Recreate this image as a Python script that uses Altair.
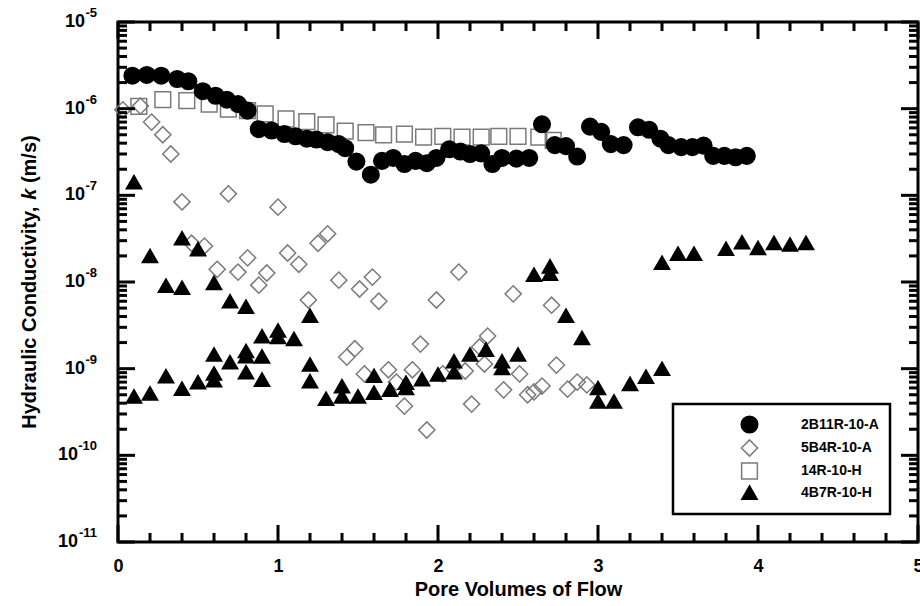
import altair as alt
import pandas as pd

# ---------------- data ----------------
SERIES = ["2B11R-10-A", "5B4R-10-A", "14R-10-H", "4B7R-10-H"]

X_2B11R = [0.09, 0.18, 0.27, 0.37, 0.44, 0.53, 0.61, 0.68, 0.75, 0.81,
           0.88, 0.96, 1.04, 1.11, 1.18, 1.24, 1.31, 1.38, 1.42, 1.49,
           1.58, 1.65, 1.72, 1.79, 1.86, 1.93, 1.99, 2.07, 2.14, 2.20,
           2.27, 2.34, 2.40, 2.49, 2.57, 2.65, 2.73, 2.80, 2.87, 2.95,
           3.02, 3.08, 3.16, 3.25, 3.32, 3.39, 3.44, 3.52, 3.59, 3.66,
           3.72, 3.79, 3.86, 3.93]
K_2B11R = [2.4e-6, 2.45e-6, 2.4e-6, 2.2e-6, 2.07e-6, 1.59e-6, 1.41e-6, 1.27e-6, 1.13e-6, 9.5e-7,
           5.8e-7, 5.6e-7, 5.1e-7, 4.8e-7, 4.5e-7, 4.4e-7, 4.1e-7, 3.9e-7, 3.5e-7, 2.45e-7,
           1.73e-7, 2.5e-7, 2.7e-7, 2.3e-7, 2.5e-7, 2.35e-7, 2.7e-7, 3.4e-7, 3.2e-7, 3.0e-7,
           3.05e-7, 2.3e-7, 2.7e-7, 2.65e-7, 2.7e-7, 6.6e-7, 3.8e-7, 3.7e-7, 2.8e-7, 6.2e-7,
           5.4e-7, 3.9e-7, 3.8e-7, 6.1e-7, 5.7e-7, 4.5e-7, 3.8e-7, 3.6e-7, 3.6e-7, 3.75e-7,
           2.85e-7, 2.85e-7, 2.75e-7, 2.85e-7]

X_5B4R = [0.03, 0.14, 0.21, 0.28, 0.33, 0.40, 0.46, 0.54, 0.62, 0.69,
          0.75, 0.81, 0.88, 0.93, 1.00, 1.06, 1.13, 1.19, 1.25, 1.31,
          1.38, 1.43, 1.48, 1.51, 1.54, 1.59, 1.63, 1.69, 1.74, 1.79,
          1.84, 1.89, 1.93, 1.99, 2.03, 2.13, 2.17, 2.21, 2.26, 2.29,
          2.31, 2.41, 2.47, 2.51, 2.56, 2.60, 2.65, 2.71, 2.74, 2.81,
          2.87, 2.93]
K_5B4R = [9.7e-7, 1.07e-6, 7.0e-7, 5.0e-7, 3.0e-7, 8.4e-8, 2.8e-8, 2.6e-8, 1.4e-8, 1.04e-7,
          1.3e-8, 1.9e-8, 9.2e-9, 1.27e-8, 7.3e-8, 2.16e-8, 1.6e-8, 6.2e-9, 2.8e-8, 3.6e-8,
          1.05e-8, 1.36e-9, 1.7e-9, 8.3e-9, 8.7e-10, 1.14e-8, 6.0e-9, 9.7e-10, 7.0e-10, 3.7e-10,
          9.7e-10, 1.92e-9, 1.96e-10, 6.2e-9, 8.7e-10, 1.3e-8, 9.4e-10, 3.9e-10, 1.78e-9, 1.13e-9,
          2.38e-9, 5.7e-10, 7.3e-9, 8.7e-10, 5.0e-10, 5.4e-10, 6.3e-10, 5.4e-9, 1.1e-9, 5.8e-10,
          7.0e-10, 6.5e-10]

X_14R = [0.13, 0.28, 0.43, 0.57, 0.69, 0.81, 0.92, 1.05, 1.18, 1.30, 1.42,
         1.55, 1.66, 1.79, 1.91, 2.03, 2.15, 2.27, 2.38, 2.50, 2.63, 2.72]
K_14R = [1.06e-6, 1.27e-6, 1.24e-6, 1.13e-6, 9.9e-7, 9.5e-7, 8.7e-7, 7.6e-7, 7.1e-7, 6.5e-7, 5.5e-7,
         5.3e-7, 5.0e-7, 5.1e-7, 4.7e-7, 4.8e-7, 4.7e-7, 4.7e-7, 4.8e-7, 4.8e-7, 4.7e-7, 4.3e-7]

X_4B7R = [0.1, 0.1, 0.2, 0.2, 0.3, 0.3, 0.4, 0.4, 0.4, 0.5, 0.5, 0.6, 0.6, 0.6, 0.6,
          0.7, 0.7, 0.8, 0.8, 0.8, 0.8, 0.9, 0.9, 0.9, 1.0, 1.0, 1.1, 1.2, 1.2, 1.2,
          1.3, 1.4, 1.4, 1.5, 1.6, 1.6, 1.7, 1.8, 1.8, 1.9, 2.0, 2.1, 2.1, 2.2, 2.3,
          2.4, 2.4, 2.5, 2.6, 2.7, 2.7, 2.8, 2.9, 3.0, 3.0, 3.1, 3.2, 3.3, 3.4, 3.4,
          3.5, 3.6, 3.8, 3.9, 4.0, 4.1, 4.2, 4.3]
K_4B7R = [1.42e-7, 4.8e-10, 2.0e-8, 5.2e-10, 9.1e-9, 8.2e-10, 3.2e-8, 8.6e-9, 5.9e-10, 2.4e-8,
          7.0e-10, 9.8e-9, 1.46e-9, 8.8e-10, 7.4e-10, 6.0e-9, 1.19e-9, 5.2e-9, 1.6e-9, 1.4e-9,
          9.1e-10, 2.37e-9, 1.39e-9, 7.5e-10, 2.76e-9, 2.33e-9, 2.21e-9, 4.1e-9, 1.12e-9, 7.2e-10,
          4.5e-10, 6.3e-10, 4.8e-10, 4.8e-10, 8.3e-10, 5.3e-10, 5.75e-10, 6.9e-10, 6.0e-10, 7.6e-10,
          8.6e-10, 1.22e-9, 9.1e-10, 1.46e-9, 1.66e-9, 1.22e-9, 1.02e-9, 1.46e-9, 1.22e-8, 1.52e-8,
          1.25e-8, 4.1e-9, 2.27e-9, 6.0e-10, 4.2e-10, 4.2e-10, 6.7e-10, 8.1e-10, 1.0e-9, 1.67e-8,
          2.13e-8, 2.13e-8, 2.42e-8, 2.88e-8, 2.48e-8, 2.83e-8, 2.71e-8, 2.83e-8]

# axis ticks / labels
X_TICKS = [0, 1, 2, 3, 4, 5]
X_MINOR = [i / 5 for i in range(1, 25) if i % 5]
Y_MAJOR = [1e-5, 1e-6, 1e-7, 1e-8, 1e-9, 1e-10, 1e-11]
Y_EXP = ["-5", "-6", "-7", "-8", "-9", "-10", "-11"]
Y_MINOR = [m * 10.0 ** e for e in range(-11, -5) for m in range(2, 10)]

# ---------------- styling ----------------
FONT = "Liberation Sans"
W, H = 800, 520
SHAPES = ["circle", "diamond", "square", "triangle-up"]
FILLS = ["black", "transparent", "transparent", "black"]
STROKES = ["black", "#7a7a7a", "#7a7a7a", "black"]
SIZES = [275, 235, 225, 300]

rows = []
for name, xs, ks in [("14R-10-H", X_14R, K_14R), ("5B4R-10-A", X_5B4R, K_5B4R),
                     ("2B11R-10-A", X_2B11R, K_2B11R), ("4B7R-10-H", X_4B7R, K_4B7R)]:
    for xv, kv in zip(xs, ks):
        rows.append({"series": name, "pv": xv, "k": kv})
df = pd.DataFrame(rows)

x_scale = alt.Scale(domain=[0, 5], nice=False, zero=False)
y_scale = alt.Scale(type="log", domain=[1e-11, 1e-5], nice=False)

x_axis = alt.Axis(values=X_TICKS, format="d", ticks=False, domain=False, grid=False,
                  labelFont=FONT, labelFontSize=18, labelFontWeight="bold", labelColor="black",
                  labelPadding=15, labelFlush=False, labelOverlap=False,
                  title="Pore Volumes of Flow", titleFont=FONT, titleFontSize=20,
                  titleFontWeight="bold", titleColor="black", titlePadding=4)
y_axis = alt.Axis(labels=False, ticks=False, domain=False, grid=False, title=None)

legend = alt.Legend(title=None, orient="none", legendX=555, legendY=382,
                    padding=11, symbolOffset=56, labelOffset=42, rowPadding=0,
                    strokeColor="black", labelFont=FONT, labelFontSize=14,
                    labelFontWeight="bold", labelColor="black", symbolStrokeWidth=1.5)

points = alt.Chart(df).mark_point(opacity=1, strokeWidth=1.5).encode(
    x=alt.X("pv:Q", scale=x_scale, axis=x_axis),
    y=alt.Y("k:Q", scale=y_scale, axis=y_axis),
    shape=alt.Shape("series:N", scale=alt.Scale(domain=SERIES, range=SHAPES), legend=legend),
    fill=alt.Fill("series:N", scale=alt.Scale(domain=SERIES, range=FILLS), legend=legend),
    stroke=alt.Stroke("series:N", scale=alt.Scale(domain=SERIES, range=STROKES), legend=legend),
    size=alt.Size("series:N", scale=alt.Scale(domain=SERIES, range=SIZES), legend=legend),
)

ymaj = pd.DataFrame({"v": Y_MAJOR, "e": Y_EXP})
ymin = pd.DataFrame({"v": Y_MINOR})
xmaj = pd.DataFrame({"v": X_TICKS})
xmin = pd.DataFrame({"v": X_MINOR})

MAJ, MIN, TW = 17, 9, 3


def yticks(data, length):
    left = alt.Chart(data).mark_rule(color="black", strokeWidth=TW).encode(
        y=alt.Y("v:Q", scale=y_scale, axis=y_axis), x=alt.value(0), x2=alt.value(length))
    right = alt.Chart(data).mark_rule(color="black", strokeWidth=TW).encode(
        y=alt.Y("v:Q", scale=y_scale, axis=y_axis), x=alt.value(W), x2=alt.value(W - length))
    return [left, right]


def xticks(data, length):
    bottom = alt.Chart(data).mark_rule(color="black", strokeWidth=TW).encode(
        x=alt.X("v:Q", scale=x_scale, axis=x_axis), y=alt.value(H), y2=alt.value(H - length))
    top = alt.Chart(data).mark_rule(color="black", strokeWidth=TW).encode(
        x=alt.X("v:Q", scale=x_scale, axis=x_axis), y=alt.value(0), y2=alt.value(length))
    return [bottom, top]


# y tick labels: "10" with a raised exponent
EXP_RIGHT = -21
base_single = alt.Chart(ymaj).transform_filter("length(datum.e) == 2").mark_text(
    align="right", baseline="middle", font=FONT, fontSize=18, fontWeight="bold", color="black",
    text="10").encode(y=alt.Y("v:Q", scale=y_scale, axis=y_axis), x=alt.value(EXP_RIGHT - 12))
base_double = alt.Chart(ymaj).transform_filter("length(datum.e) == 3").mark_text(
    align="right", baseline="middle", font=FONT, fontSize=18, fontWeight="bold", color="black",
    text="10").encode(y=alt.Y("v:Q", scale=y_scale, axis=y_axis), x=alt.value(EXP_RIGHT - 19))
exps = alt.Chart(ymaj).mark_text(
    align="right", baseline="middle", font=FONT, fontSize=13, fontWeight="bold", color="black",
    dy=-9).encode(y=alt.Y("v:Q", scale=y_scale, axis=y_axis), x=alt.value(EXP_RIGHT), text="e:N")

# y axis title, with italic k
T1 = ["Hydraulic Conductivity,"]
T2 = ["k"]
T3 = ["(m/s)"]
TX = -88
ytitle1 = alt.Chart(pd.DataFrame({"t": T1})).mark_text(
    angle=270, align="left", baseline="middle", font=FONT, fontSize=20, fontWeight="bold",
    color="black").encode(x=alt.value(TX), y=alt.value(406.7), text="t:N")
ytitle2 = alt.Chart(pd.DataFrame({"t": T2})).mark_text(
    angle=270, align="left", baseline="middle", font=FONT, fontSize=20, fontWeight="bold",
    fontStyle="italic", color="black").encode(x=alt.value(TX), y=alt.value(177.8), text="t:N")
ytitle3 = alt.Chart(pd.DataFrame({"t": T3})).mark_text(
    angle=270, align="left", baseline="middle", font=FONT, fontSize=20, fontWeight="bold",
    color="black").encode(x=alt.value(TX), y=alt.value(161.1), text="t:N")

layers = [points] + yticks(ymaj, MAJ) + yticks(ymin, MIN) + xticks(xmaj, MAJ) + xticks(xmin, MIN) \
    + [base_single, base_double, exps, ytitle1, ytitle2, ytitle3]

chart = alt.layer(*layers).properties(
    width=W, height=H,
    padding={"left": 118, "top": 22, "right": 2, "bottom": 64},
    autosize=alt.AutoSizeParams(type="none"),
    background="white",
).configure_view(stroke="black", strokeWidth=3).configure_legend(strokeWidth=2.5)

chart.save("out.html", embed_options={"renderer": "svg", "actions": False})
